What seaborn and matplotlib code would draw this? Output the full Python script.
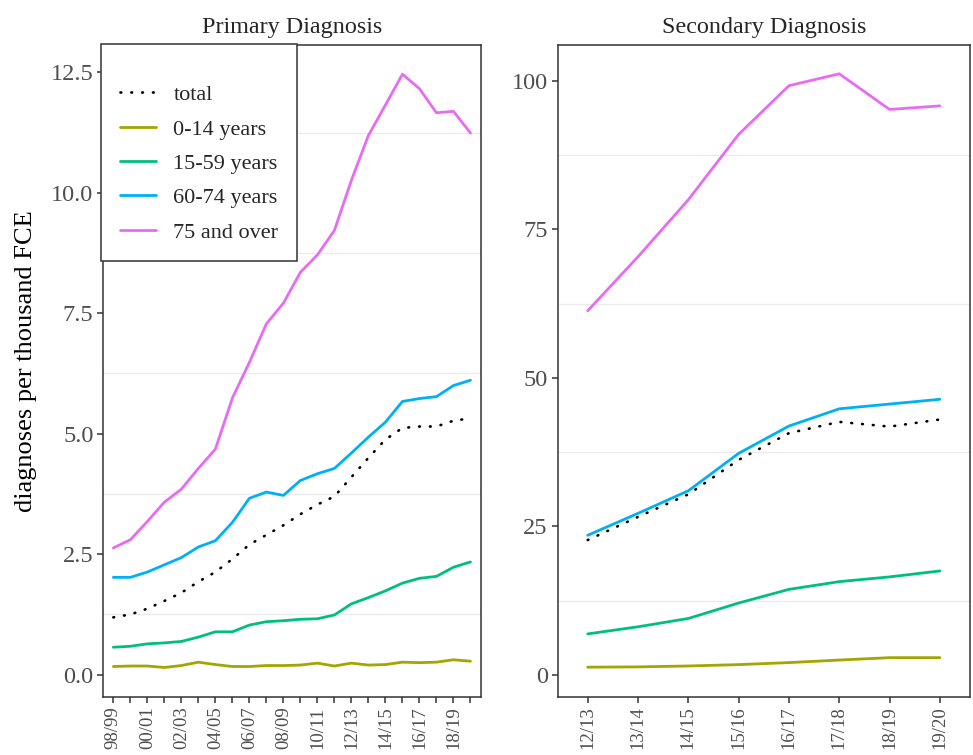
import numpy as np
import pandas as pd
import matplotlib
matplotlib.use("Agg")
import matplotlib.pyplot as plt
import seaborn as sns

# season labels
primary_years = ["98/99", "99/00", "00/01", "01/02", "02/03", "03/04", "04/05", "05/06",
                 "06/07", "07/08", "08/09", "09/10", "10/11", "11/12", "12/13", "13/14",
                 "14/15", "15/16", "16/17", "17/18", "18/19", "19/20"]
secondary_years = ["12/13", "13/14", "14/15", "15/16", "16/17", "17/18", "18/19", "19/20"]

# primary diagnosis, per thousand FCE
p_total = [1.19, 1.25, 1.37, 1.53, 1.70, 1.93, 2.13, 2.40, 2.70, 2.90, 3.10, 3.33,
           3.53, 3.70, 4.10, 4.50, 4.88, 5.12, 5.15, 5.15, 5.27, 5.32]
p_0_14 = [0.17, 0.18, 0.18, 0.15, 0.19, 0.26, 0.21, 0.17, 0.17, 0.19, 0.19, 0.20,
          0.24, 0.18, 0.24, 0.20, 0.21, 0.26, 0.25, 0.26, 0.31, 0.28]
p_15_59 = [0.57, 0.59, 0.64, 0.66, 0.69, 0.78, 0.89, 0.89, 1.03, 1.10, 1.12, 1.15,
           1.16, 1.24, 1.47, 1.60, 1.74, 1.90, 2.00, 2.04, 2.23, 2.34]
p_60_74 = [2.02, 2.02, 2.13, 2.28, 2.43, 2.65, 2.78, 3.16, 3.66, 3.79, 3.72, 4.03,
           4.17, 4.28, 4.60, 4.93, 5.24, 5.67, 5.73, 5.77, 6.00, 6.11]
p_75 = [2.63, 2.80, 3.18, 3.58, 3.85, 4.28, 4.68, 5.74, 6.48, 7.28, 7.71, 8.35,
        8.71, 9.22, 10.26, 11.19, 11.82, 12.46, 12.16, 11.66, 11.69, 11.24]

# secondary diagnosis, per thousand FCE
s_total = [22.7, 26.6, 30.4, 36.2, 40.7, 42.6, 41.8, 43.0]
s_0_14 = [1.3, 1.35, 1.5, 1.73, 2.07, 2.5, 2.9, 2.9]
s_15_59 = [6.9, 8.1, 9.5, 12.1, 14.4, 15.7, 16.5, 17.5]
s_60_74 = [23.5, 27.2, 31.0, 37.3, 41.9, 44.8, 45.6, 46.4]
s_75 = [61.3, 70.4, 80.0, 91.0, 99.2, 101.2, 95.2, 95.8]

groups = ["0-14 years", "15-59 years", "60-74 years", "75 and over"]
colors = ["#A3A500", "#00BF7D", "#00B0F6", "#E76BF3"]

sns.set_theme(style="white")
plt.rcParams["font.family"] = ["Liberation Serif", "DejaVu Serif"]

fig = plt.figure(figsize=(9.73, 7.55), dpi=100)
ax1 = fig.add_axes([0.106, 0.077, 0.388, 0.863])
ax2 = fig.add_axes([0.573, 0.077, 0.424, 0.863])


def draw(ax, years, total, series, minor, ylim, majors, fmt):
    x = np.arange(len(years))
    for y in minor:
        ax.axhline(y, color="#EBEBEB", lw=1.0, zorder=0)
    for vals, grp, col in zip(series, groups, colors):
        sns.lineplot(x=x, y=vals, ax=ax, color=col, lw=2.0, label=grp)
    sns.lineplot(x=x, y=total, ax=ax, color="black", lw=1.9, label="total")
    ax.lines[-1].set_dashes((0.3, 3.8))
    ax.lines[-1].set_dash_capstyle("round")
    ax.set_xlim(-0.6, len(years) - 0.4)
    ax.set_ylim(*ylim)
    ax.set_yticks(majors)
    ax.set_yticklabels([fmt(v) for v in majors])
    ax.set_xticks(x)
    for s in ax.spines.values():
        s.set_color("#333333")
        s.set_linewidth(1.1)
    ax.tick_params(axis="both", direction="out", length=4, width=1.1,
                   color="#333333", labelcolor="#4D4D4D", labelsize=17.5,
                   bottom=True, left=True, pad=3)
    ax.set_xlabel("")
    return ax


draw(ax1, primary_years, p_total, [p_0_14, p_15_59, p_60_74, p_75],
     [1.25, 3.75, 6.25, 8.75, 11.25], (-0.46, 13.06),
     [0, 2.5, 5, 7.5, 10, 12.5], lambda v: f"{v:.1f}")
ax1.set_xticklabels([lab if i % 2 == 0 else "" for i, lab in enumerate(primary_years)],
                    rotation=90, fontsize=13.5)
ax1.set_ylabel("diagnoses per thousand FCE", fontsize=19, color="black")
ax1.yaxis.set_label_coords(-0.174, 0.515)
ax1.set_title("Primary Diagnosis", fontsize=17.4, pad=9)

draw(ax2, secondary_years, s_total, [s_0_14, s_15_59, s_60_74, s_75],
     [12.5, 37.5, 62.5, 87.5], (-3.7, 106),
     [0, 25, 50, 75, 100], lambda v: f"{v:d}")
ax2.set_xticklabels(secondary_years, rotation=90, fontsize=13.5)
ax2.set_ylabel("")
ax2.set_title("Secondary Diagnosis", fontsize=17.4, pad=9)
ax2.get_legend().remove()

h, l = ax1.get_legend_handles_labels()
order = [l.index("total")] + [l.index(g) for g in groups]
leg = ax1.legend([h[i] for i in order], [l[i] for i in order],
                 loc="upper left", bbox_to_anchor=(-0.005, 1.002), borderaxespad=0,
                 frameon=True, fancybox=False, fontsize=16, handlelength=1.6,
                 labelspacing=0.62, borderpad=0.85, handletextpad=0.8,
                 title=" ", title_fontsize=6)
leg.get_frame().set_edgecolor("#333333")
leg.get_frame().set_linewidth(1.1)
leg.get_frame().set_alpha(1)

fig.savefig("out.png", dpi=100)
